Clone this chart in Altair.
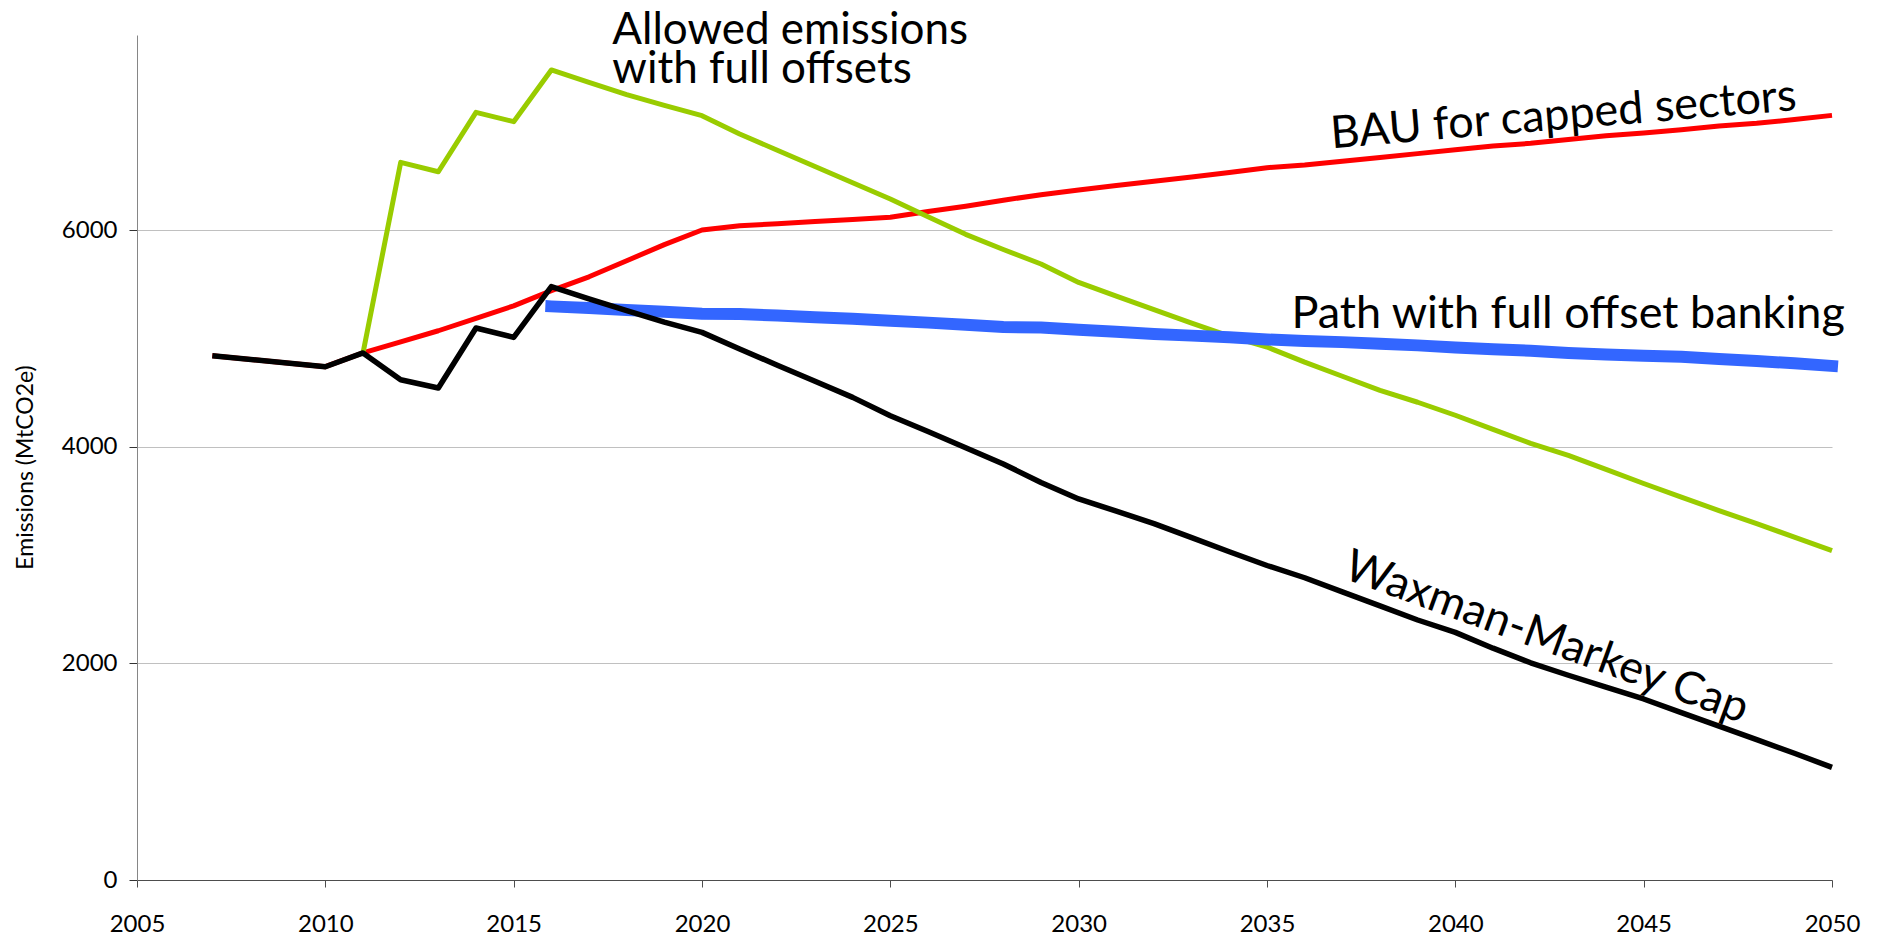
import altair as alt
import pandas as pd

# ---- data ----
bau_years = [2007, 2010] + list(range(2011, 2051))
bau_values = [4840, 4738, 4865, 4968, 5070, 5185, 5300, 5440, 5568, 5716, 5865,
              6000, 6040, 6058, 6078, 6097, 6117, 6170, 6220, 6275, 6326, 6370,
              6410, 6450, 6490, 6530, 6575, 6600, 6635, 6670, 6705, 6740, 6775,
              6800, 6835, 6870, 6895, 6925, 6960, 6985, 7020, 7058]

cap_years = [2007, 2010] + list(range(2011, 2051))
cap_values = [4840, 4738, 4865, 4618, 4541, 5095, 5009, 5477, 5365, 5255, 5150,
              5055, 4902, 4752, 4603, 4455, 4286, 4140, 3990, 3840, 3670, 3517,
              3405, 3290, 3160, 3030, 2903, 2790, 2660, 2530, 2400, 2286, 2140,
              2005, 1890, 1780, 1671, 1545, 1420, 1295, 1170, 1040]

offset_years = list(range(2011, 2051))
offset_values = [4865, 6624, 6538, 7086, 7000, 7477, 7363, 7250, 7150, 7055,
                 6886, 6736, 6586, 6436, 6286, 6123, 5960, 5820, 5686, 5516,
                 5390, 5265, 5140, 5020, 4920, 4780, 4650, 4520, 4410, 4290,
                 4160, 4030, 3920, 3790, 3660, 3535, 3410, 3290, 3165, 3040]

bank_years = list(range(2016, 2051))
bank_values = [5295, 5280, 5262, 5245, 5228, 5225, 5210, 5195, 5180, 5163,
               5145, 5125, 5105, 5100, 5080, 5060, 5040, 5025, 5010, 4990,
               4975, 4965, 4950, 4935, 4915, 4900, 4885, 4865, 4850, 4840,
               4830, 4810, 4790, 4770, 4745]

x_ticks = list(range(2005, 2051, 5))
y_ticks = [0, 2000, 4000, 6000]

FONT = "Lato"

x_enc = alt.X("year:Q",
              scale=alt.Scale(domain=[2005, 2050], nice=False, zero=False),
              axis=alt.Axis(values=x_ticks, format="d", title=None, grid=False,
                            tickSize=7, labelPadding=25, labelFont=FONT,
                            labelFontSize=24, labelColor="black",
                            domainColor="#4d4d4d", tickColor="#4d4d4d",
                            labelFlush=False))
y_enc = alt.Y("value:Q",
              scale=alt.Scale(domain=[0, 7800], nice=False),
              axis=alt.Axis(values=y_ticks, format="d",
                            title="Emissions (MtCO2e)",
                            grid=True, gridColor="#c0c0c0", gridWidth=1,
                            tickSize=8, labelPadding=12, labelFont=FONT,
                            labelFontSize=24, labelColor="black",
                            domainColor="#868686", tickColor="#333333",
                            titleFont=FONT, titleFontSize=23,
                            titleFontWeight="normal", titleColor="black",
                            titleAngle=270, titleX=-105, titleY=432,
                            titleAlign="center", titleBaseline="alphabetic"))


def line_layer(years, values, color, width, cap="butt"):
    df = pd.DataFrame({"year": years, "value": values})
    return alt.Chart(df).mark_line(color=color, strokeWidth=width,
                                   strokeJoin="round", strokeCap=cap).encode(
        x=x_enc, y=y_enc)


def text_layer(label, year, value, size, align, angle=0, line_height=None):
    df = pd.DataFrame({"year": [year], "value": [value], "label": [label]})
    kw = dict(font=FONT, fontSize=size, align=align, baseline="alphabetic",
              color="black", angle=angle, lineBreak="\n")
    if line_height is not None:
        kw["lineHeight"] = line_height
    return alt.Chart(df).mark_text(**kw).encode(x=x_enc, y=y_enc,
                                                 text="label:N")


bau = line_layer(bau_years, bau_values, "#ff0000", 5)
offs = line_layer(offset_years, offset_values, "#99cc00", 5)
bank = line_layer(bank_years, bank_values, "#3366ff", 12, cap="square")
cap = line_layer(cap_years, cap_values, "#000000", 5.5)

t_allowed = text_layer("Allowed emissions\nwith full offsets", 2017.62, 7720,
                       44, "left", line_height=39)
t_bau = text_layer("BAU for capped sectors", 2042.9, 6931, 45, "center",
                   angle=355.3)
t_path = text_layer("Path with full offset banking", 2035.65, 5098, 45, "left")
t_cap = text_layer("Waxman-Markey Cap", 2042.3, 2117, 45, "center", angle=20)

chart = alt.layer(bau, offs, bank, cap, t_allowed, t_bau, t_path, t_cap).properties(
    width=1695, height=845,
    padding={"left": 129, "top": 27, "right": 36, "bottom": 58},
    autosize=alt.AutoSizeParams(type="none"),
    background="white",
).configure_view(strokeWidth=0)

chart.save("out.html", embed_options={"renderer": "svg", "actions": False})
